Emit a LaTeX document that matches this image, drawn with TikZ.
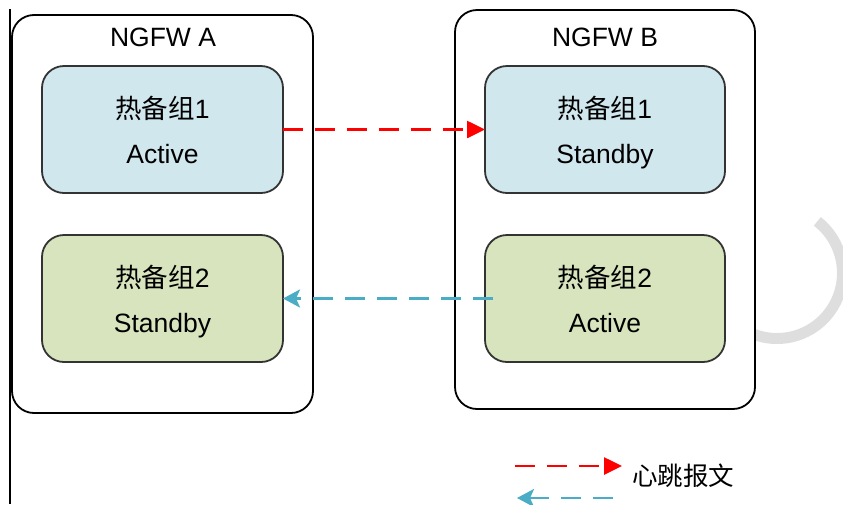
\documentclass[tikz,border=0pt]{standalone}
\usepackage{fontspec}
\setmainfont{Liberation Sans}
\newfontfamily\cjk{Noto Sans CJK SC}
\usetikzlibrary{arrows.meta}

\definecolor{grpblue}{HTML}{D0E7EE}
\definecolor{grpgreen}{HTML}{D7E4BD}
\definecolor{hbcyan}{HTML}{4BACC6}
\definecolor{hbred}{HTML}{FF0000}
\definecolor{ringgray}{HTML}{DEDEDE}
\definecolor{boxline}{HTML}{333333}

\begin{document}
\begin{tikzpicture}[x=1pt, y=-1pt,
  device/.style={draw=black, line width=1.8pt, fill=white, rounded corners=22pt,
    minimum width=300pt, minimum height=398pt, inner sep=0pt, outer sep=0pt},
  devtitle/.style={inner sep=0pt, font=\fontsize{26.5}{30}\selectfont},
  group/.style={draw=boxline, line width=1.8pt, rounded corners=22pt,
    minimum width=241pt, minimum height=127pt, inner sep=0pt, outer sep=0pt,
    align=center, font=\fontsize{26.5}{45}\selectfont},
  hbred/.style={draw=hbred, line width=2.6pt, dash pattern=on 20pt off 12pt,
    -{Triangle[length=18pt, width=17pt]}},
  hbcyan/.style={draw=hbcyan, line width=2.6pt, dash pattern=on 20pt off 12pt,
    -{Stealth[length=17pt, width=18pt, inset=4pt]}},
  legendtext/.style={inner sep=0pt, anchor=west, font=\fontsize{25.5}{30}\selectfont\cjk}
]
\useasboundingbox (0,0) rectangle (843,504);
\clip (0,0) rectangle (843,504);

% pale ring partly hidden behind device B
\draw[ringgray, line width=11pt] (777,273) ++(-52:65.5) arc[start angle=-52, end angle=125, radius=65.5];

% left frame line
\draw[black, line width=1.5pt] (10,9) -- (10,504);

% the two devices
\node[device, minimum width=301pt] (devA) at (162.5,214) {};
\node[device, minimum height=399pt] (devB) at (605,209.5) {};
\node[devtitle] (titleA) at (163,37) {NGFW A};
\node[devtitle] (titleB) at (605,37) {NGFW B};

% hot-standby groups
\node[group, fill=grpblue]  (A1) at (162.5,129.5) {{\cjk 热备组}1\\Active};
\node[group, fill=grpgreen] (A2) at (162.5,298.5) {{\cjk 热备组}2\\\smash{Standby}};
\node[group, fill=grpblue, minimum width=240pt]  (B1) at (605,129.5) {{\cjk 热备组}1\\\smash{Standby}};
\node[group, fill=grpgreen, minimum width=240pt] (B2) at (605,298.5) {{\cjk 热备组}2\\Active};

% heartbeat messages
\draw[hbred] (A1.east) -- (B1.west);
\draw[hbcyan] ([xshift=8pt]B2.west) -- (A2.east);

% legend
\coordinate (lgRedS) at (515,466);
\coordinate (lgRedE) at (622,466);
\coordinate (lgCyanS) at (613,498);
\coordinate (lgCyanE) at (517,498);
\draw[hbred] (lgRedS) -- (lgRedE);
\draw[hbcyan] (lgCyanS) -- (lgCyanE);
\node[legendtext] (lgText) at (632,476) {心跳报文};
\end{tikzpicture}
\end{document}
